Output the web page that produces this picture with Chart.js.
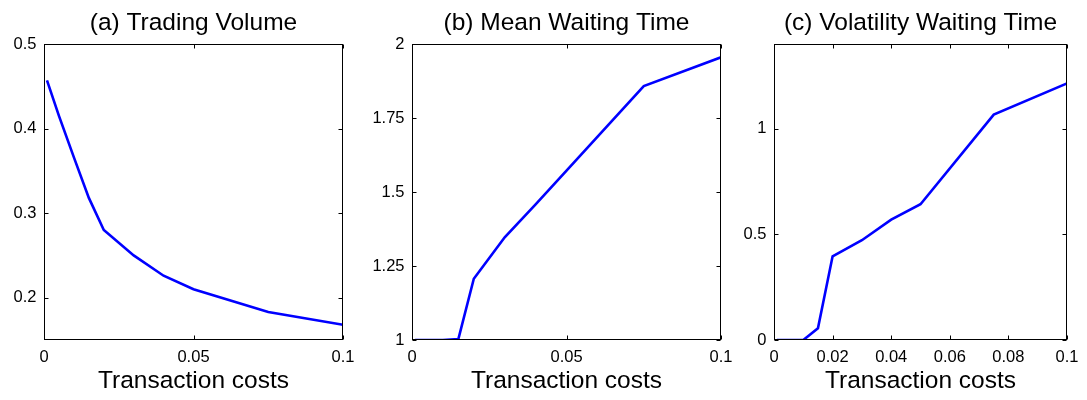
<!DOCTYPE html>
<html lang="en">
<head>
    <meta charset="UTF-8">
    <title>Transaction costs</title>
    <script src="https://cdn.jsdelivr.net/npm/chart.js"></script>
    <style>
        body { margin: 0; background: #fff; }
        .panel { position: absolute; top: 0; }
    </style>
</head>
<body>
    <canvas id="chartA" class="panel" style="left:0px" width="370" height="400"></canvas>
    <canvas id="chartB" class="panel" style="left:362px" width="378" height="400"></canvas>
    <canvas id="chartC" class="panel" style="left:726px" width="361" height="400"></canvas>
    <script>
        // transaction cost grid (x axis of every panel)
        var costs = [0.001, 0.005, 0.01, 0.015, 0.02, 0.03, 0.04, 0.05, 0.075, 0.1];

        // series
        var tradingVolume = [0.457, 0.415, 0.366, 0.318, 0.28, 0.25, 0.226, 0.21, 0.183, 0.168];
        var meanWaiting = [1, 1, 1, 1.003, 1.207, 1.347, 1.458, 1.572, 1.858, 1.955];
        var volWaiting = [0, 0, 0, 0.055, 0.396, 0.472, 0.569, 0.642, 1.066, 1.214];

        // tick labels
        var xTicksAB = [0, 0.05, 0.1];
        var xTicksC = [0, 0.02, 0.04, 0.06, 0.08, 0.1];
        var yTicksA = [0.2, 0.3, 0.4, 0.5];
        var yTicksB = [1, 1.25, 1.5, 1.75, 2];
        var yTicksC = [0, 0.5, 1];

        var FONT = "'Liberation Sans', Arial, sans-serif";

        function fmt(v) {
            return String(parseFloat(Number(v).toFixed(4)));
        }

        // box round the plot with small inward ticks on all four sides (matlab look)
        var boxPlugin = {
            id: 'box',
            afterDraw: function(chart) {
                var ctx = chart.ctx;
                var a = chart.chartArea;
                var l = Math.round(a.left) + 0.5, r = Math.round(a.right) - 0.5;
                var t = Math.round(a.top) + 0.5, b = Math.round(a.bottom) - 0.5;
                var len = 4;
                ctx.save();
                ctx.strokeStyle = '#000';
                ctx.lineWidth = 1;
                ctx.beginPath();
                chart.scales.x.ticks.forEach(function(tk) {
                    var px = Math.round(chart.scales.x.getPixelForValue(tk.value)) + 0.5;
                    ctx.moveTo(px, b); ctx.lineTo(px, b - len);
                    ctx.moveTo(px, t); ctx.lineTo(px, t + len);
                });
                chart.scales.y.ticks.forEach(function(tk) {
                    var py = Math.round(chart.scales.y.getPixelForValue(tk.value)) + 0.5;
                    ctx.moveTo(l, py); ctx.lineTo(l + len, py);
                    ctx.moveTo(r, py); ctx.lineTo(r - len, py);
                });
                ctx.stroke();
                ctx.strokeRect(l, t, r - l, b - t);
                ctx.restore();
            }
        };

        function makePanel(id, title, values, yMin, yMax, xTicks, yTicks, yAxisWidth, padRight) {
            var points = costs.map(function(c, i) { return { x: c, y: values[i] }; });
            var ctx = document.getElementById(id).getContext('2d');
            return new Chart(ctx, {
                type: 'line',
                data: {
                    datasets: [{
                        data: points,
                        borderColor: '#0000ff',
                        borderWidth: 2.6,
                        pointRadius: 0,
                        tension: 0,
                        fill: false
                    }]
                },
                options: {
                    responsive: false,
                    animation: false,
                    events: [],
                    layout: { padding: { left: 0, right: padRight, top: 0, bottom: 0 } },
                    plugins: {
                        legend: { display: false },
                        tooltip: { enabled: false },
                        title: {
                            display: true,
                            text: title,
                            fullSize: false,
                            color: '#000',
                            font: { family: FONT, size: 24.5, weight: 'normal', lineHeight: 1 },
                            padding: { top: 10.5, bottom: 9 }
                        }
                    },
                    scales: {
                        x: {
                            type: 'linear',
                            min: 0,
                            max: 0.1,
                            grid: { display: false, drawTicks: false },
                            border: { display: false },
                            afterBuildTicks: function(scale) {
                                scale.ticks = xTicks.map(function(v) { return { value: v }; });
                            },
                            afterFit: function(scale) { scale.height = 60; },
                            ticks: {
                                color: '#000',
                                padding: 7.5,
                                maxRotation: 0,
                                font: { family: FONT, size: 16.5 },
                                callback: fmt
                            },
                            title: {
                                display: true,
                                text: 'Transaction costs',
                                color: '#000',
                                font: { family: FONT, size: 24.5, lineHeight: 1 },
                                padding: { top: 0, bottom: 6.5 }
                            }
                        },
                        y: {
                            min: yMin,
                            max: yMax,
                            grid: { display: false, drawTicks: false },
                            border: { display: false },
                            afterBuildTicks: function(scale) {
                                scale.ticks = yTicks.map(function(v) { return { value: v }; });
                            },
                            afterFit: function(scale) { scale.width = yAxisWidth; },
                            ticks: {
                                color: '#000',
                                padding: 7.5,
                                font: { family: FONT, size: 16.5 },
                                callback: fmt
                            }
                        }
                    }
                },
                plugins: [boxPlugin]
            });
        }

        makePanel('chartA', '(a) Trading Volume', tradingVolume, 0.15, 0.5, xTicksAB, yTicksA, 44, 27);
        makePanel('chartB', '(b) Mean Waiting Time', meanWaiting, 1, 2, xTicksAB, yTicksB, 50, 17);
        makePanel('chartC', '(c) Volatility Waiting Time', volWaiting, 0, 1.4, xTicksC, yTicksC, 48, 20);
    </script>
</body>
</html>
